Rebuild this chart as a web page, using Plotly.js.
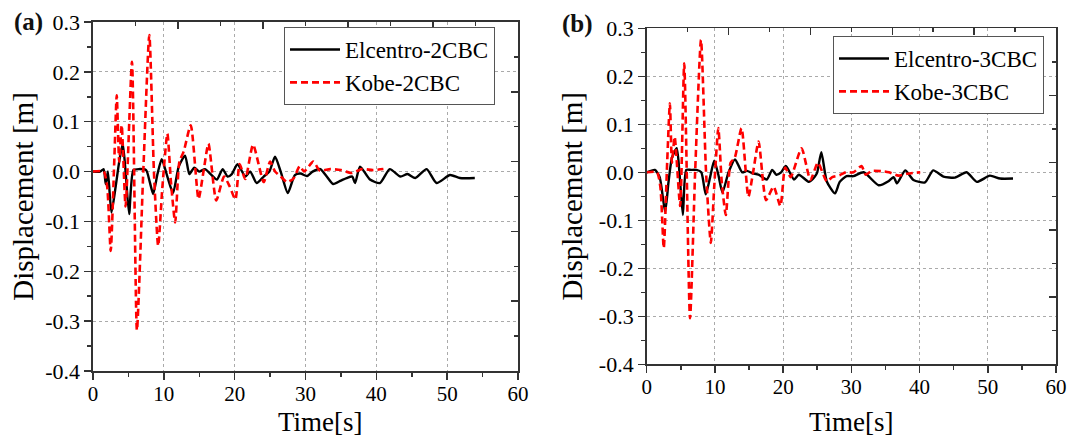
<!DOCTYPE html>
<html>
<head>
<meta charset="utf-8">
<script src="https://cdn.plot.ly/plotly-3.0.1.min.js"></script>
<style>html,body{margin:0;padding:0;background:#fff;}#chart{width:1080px;height:437px;}</style>
</head>
<body>
<div id="chart"></div>
<script>
// ---------- data ----------
// Panel (a)
const tElcentro2 = [0, 1.0, 1.5, 1.8, 2.1, 2.6, 3.2, 3.7, 4.2, 4.6, 5.1, 5.7, 6.5, 7.5, 8.0, 8.5, 9.1, 9.7, 10.5, 11.3, 12.1, 13.0, 13.6, 14.3, 15.0, 15.8, 16.6, 17.5, 18.3, 19.0, 19.6, 20.4, 21.5, 22.2, 23.1, 24.1, 24.9, 25.7, 26.5, 27.5, 28.5, 29.3, 30.2, 31.0, 32.1, 33.0, 33.9, 35.0, 35.8, 36.6, 37.0, 37.7, 39.1, 40.5, 41.9, 43.4, 44.4, 45.5, 47.1, 48.5, 50.4, 51.8, 53.9];
const dElcentro2 = [0, 0, 0.005, -0.025, 0.0, -0.082, -0.03, 0.02, 0.056, 0.0, -0.085, 0.003, 0.005, 0.003, -0.02, -0.045, -0.005, 0.025, -0.01, -0.043, 0.01, 0.032, -0.005, 0.008, 0.0, 0.005, -0.005, -0.016, 0.005, -0.01, -0.005, 0.015, -0.01, 0.0, -0.023, -0.01, 0.0, 0.03, 0.0, -0.043, -0.007, -0.004, -0.009, 0.0, 0.005, -0.01, -0.025, -0.018, -0.013, -0.01, -0.023, 0.01, -0.016, -0.023, 0.005, -0.01, -0.005, -0.013, 0.005, -0.023, -0.007, -0.013, -0.013];
const tKobe2 = [0, 1.5, 2.0, 2.5, 3.0, 3.35, 3.7, 4.05, 4.6, 5.5, 6.2, 7.1, 7.95, 8.6, 9.2, 9.8, 10.5, 11.0, 11.6, 12.2, 12.8, 13.8, 14.9, 15.6, 16.3, 17.4, 18.5, 19.3, 20.1, 20.7, 21.5, 22.6, 24.1, 25.0, 25.7, 26.5, 27.4, 28.3, 29.2, 29.8, 31.1, 32.0, 33.5, 35.0, 36.5, 38.0, 39.5, 41.0];
const dKobe2 = [0, 0, -0.03, -0.159, 0.02, 0.153, 0.02, 0.093, -0.07, 0.22, -0.318, 0.0, 0.274, 0.0, -0.149, -0.03, 0.076, -0.02, -0.102, 0.02, 0.04, 0.093, -0.055, 0.0, 0.056, -0.058, -0.01, -0.03, -0.056, 0.015, -0.015, 0.054, -0.021, 0.02, 0.0, -0.01, -0.021, -0.014, 0.011, 0.0, 0.02, 0.002, 0.005, 0.003, -0.003, 0.005, 0.003, 0.005];

// Panel (b)
const tElcentro3 = [0, 1.2, 1.9, 2.7, 3.2, 3.7, 4.4, 4.8, 5.3, 5.8, 6.5, 7.3, 8.0, 8.65, 9.3, 9.9, 10.5, 11.1, 12.0, 12.95, 14.0, 14.7, 15.5, 16.4, 17.6, 18.4, 19.0, 19.7, 20.4, 21.6, 22.3, 23.8, 24.6, 25.0, 25.6, 26.4, 27.6, 28.3, 29.3, 30.3, 31.8, 34.0, 35.5, 36.2, 36.7, 37.9, 39.1, 40.8, 42.0, 43.5, 45.2, 46.9, 48.4, 50.3, 51.8, 53.7];
const dElcentro3 = [0, 0.005, -0.01, -0.082, -0.02, 0.03, 0.05, 0.0, -0.089, 0.005, 0.005, 0.005, 0.0, -0.046, -0.01, 0.024, -0.005, -0.042, 0.0, 0.027, 0.0, 0.003, -0.002, -0.005, -0.015, 0.005, -0.005, 0.0, 0.013, -0.015, -0.005, -0.02, -0.01, 0.0, 0.042, -0.019, -0.044, -0.02, -0.008, -0.008, 0.0, -0.027, -0.018, -0.01, -0.023, 0.004, -0.016, -0.021, 0.004, -0.009, -0.011, 0.0, -0.02, -0.007, -0.013, -0.013];
const tKobe3 = [0, 1.5, 2.0, 2.5, 3.0, 3.4, 3.7, 4.1, 4.9, 5.5, 6.35, 7.1, 7.96, 8.7, 9.4, 9.9, 10.5, 11.0, 11.6, 12.3, 12.9, 13.9, 14.9, 15.6, 16.4, 17.5, 18.6, 19.6, 20.3, 21.1, 22.7, 24.0, 25.1, 26.4, 27.2, 28.3, 29.2, 30.3, 31.5, 32.1, 33.0, 34.7, 35.5, 36.9, 38.2, 40.1];
const dKobe3 = [0, 0, -0.03, -0.158, 0.02, 0.144, 0.02, 0.074, -0.07, 0.227, -0.304, 0.0, 0.276, 0.0, -0.147, -0.03, 0.092, -0.02, -0.089, 0.02, 0.03, 0.092, -0.051, 0.0, 0.064, -0.058, -0.03, -0.07, 0.01, -0.01, 0.05, -0.016, 0.02, -0.019, -0.01, -0.006, 0.0, 0.0, 0.013, -0.005, 0.003, 0.002, 0.0, -0.007, -0.003, 0.0];

// Tick labels
const xTickVals = [0, 10, 20, 30, 40, 50, 60];
const xTickText = ['0', '10', '20', '30', '40', '50', '60'];
const yTickVals = [-0.4, -0.3, -0.2, -0.1, 0.0, 0.1, 0.2, 0.3];
const yTickText = ['-0.4', '-0.3', '-0.2', '-0.1', '0.0', '0.1', '0.2', '0.3'];

// Names / texts
const seriesNamesA = ['Elcentro-2CBC', 'Kobe-2CBC'];
const seriesNamesB = ['Elcentro-3CBC', 'Kobe-3CBC'];
const panelLabels = ['(a)', '(b)'];
const xTitle = 'Time[s]';
const yTitle = 'Displacement [m]';

// ---------- styling ----------
const W = 1080, H = 437;
const FONT = 'Liberation Serif, Times New Roman, serif';
const AXC = '#333333';
const px = v => v / W;
const py = v => 1 - v / H;

function bottomX(domain, anchor) {
  return {
    domain: domain, anchor: anchor, range: [0, 60],
    tickmode: 'array', tickvals: xTickVals, ticktext: xTickText,
    ticks: 'outside', ticklen: 7, tickwidth: 1.5, tickcolor: AXC, ticklabelstandoff: -4,
    minor: {tickmode: 'linear', tick0: 0, dtick: 5, ticks: 'outside', ticklen: 4, tickwidth: 1.5, tickcolor: AXC, showgrid: false},
    showline: true, linecolor: AXC, linewidth: 1.6,
    showgrid: true, gridcolor: '#aaaaaa', griddash: 'dot', gridwidth: 1,
    zeroline: false,
    tickfont: {family: FONT, size: 21, color: '#000'}
  };
}
function leftY(domain, anchor, standoff) {
  return {
    domain: domain, anchor: anchor, range: [-0.4, 0.3],
    tickmode: 'array', tickvals: yTickVals, ticktext: yTickText,
    ticks: 'outside', ticklen: 7, tickwidth: 1.5, tickcolor: AXC,
    minor: {tickmode: 'linear', tick0: 0, dtick: 0.05, ticks: 'outside', ticklen: 4, tickwidth: 1.5, tickcolor: AXC, showgrid: false},
    showline: true, linecolor: AXC, linewidth: 1.6,
    showgrid: true, gridcolor: '#aaaaaa', griddash: 'dot', gridwidth: 1,
    zeroline: false,
    tickfont: {family: FONT, size: 22, color: '#000'},
    title: {text: yTitle, font: {family: FONT, size: 29, color: '#000'}, standoff: standoff}
  };
}
function topX(overlay, anchor, domain) {
  return {
    overlaying: overlay, anchor: anchor, side: 'top', range: [0, 10], domain: domain,
    tickmode: 'linear', tick0: 0, dtick: 2,
    ticks: 'inside', ticklen: 7, tickwidth: 1.5, tickcolor: AXC,
    minor: {tickmode: 'linear', tick0: 0, dtick: 1, ticks: 'inside', ticklen: 4, tickwidth: 1.5, tickcolor: AXC, showgrid: false},
    showticklabels: false, showline: true, linecolor: AXC, linewidth: 1.6,
    showgrid: false, zeroline: false
  };
}
function rightY(overlay, anchor, domain) {
  return {
    overlaying: overlay, anchor: anchor, side: 'right', range: [0, 10], domain: domain,
    tickmode: 'linear', tick0: 0, dtick: 2,
    ticks: 'inside', ticklen: 7, tickwidth: 1.5, tickcolor: AXC,
    minor: {tickmode: 'linear', tick0: 0, dtick: 1, ticks: 'inside', ticklen: 4, tickwidth: 1.5, tickcolor: AXC, showgrid: false},
    showticklabels: false, showline: true, linecolor: AXC, linewidth: 1.6,
    showgrid: false, zeroline: false
  };
}

const blackLine = {color: '#000000', width: 2.4, shape: 'spline', smoothing: 0.6};
const redLine = {color: '#ff0000', width: 2.6, dash: '7px,4px', shape: 'spline', smoothing: 0.6};

const traces = [
  {x: tElcentro2, y: dElcentro2, name: seriesNamesA[0], type: 'scatter', mode: 'lines', line: blackLine, xaxis: 'x', yaxis: 'y', legend: 'legend'},
  {x: tKobe2, y: dKobe2, name: seriesNamesA[1], type: 'scatter', mode: 'lines', line: redLine, xaxis: 'x', yaxis: 'y', legend: 'legend'},
  {x: tElcentro3, y: dElcentro3, name: seriesNamesB[0], type: 'scatter', mode: 'lines', line: blackLine, xaxis: 'x2', yaxis: 'y2', legend: 'legend2'},
  {x: tKobe3, y: dKobe3, name: seriesNamesB[1], type: 'scatter', mode: 'lines', line: redLine, xaxis: 'x2', yaxis: 'y2', legend: 'legend2'},
  {x: [], y: [], xaxis: 'x3', yaxis: 'y3', showlegend: false, hoverinfo: 'skip', type: 'scatter', mode: 'lines'},
  {x: [], y: [], xaxis: 'x4', yaxis: 'y4', showlegend: false, hoverinfo: 'skip', type: 'scatter', mode: 'lines'}
];

const domAx = [px(93), px(518)], domAy = [py(371), py(22)];
const domBx = [px(646.7), px(1056)], domBy = [py(364.3), py(28.3)];

function legendAt(x, y) {
  return {
    x: px(x), y: py(y), xanchor: 'left', yanchor: 'top', xref: 'paper', yref: 'paper',
    bgcolor: '#ffffff', bordercolor: '#555555', borderwidth: 1,
    font: {family: FONT, size: 23, color: '#000'},
    itemwidth: 50, tracegroupgap: 0, traceorder: 'normal'
  };
}

function xTitleAnn(xPix, yTopPix) {
  return {text: xTitle, xref: 'paper', yref: 'paper', x: px(xPix), y: py(yTopPix),
    xanchor: 'center', yanchor: 'top', showarrow: false, borderpad: 0,
    font: {family: FONT, size: 27, color: '#000'}};
}

const layout = {
  width: W, height: H,
  margin: {l: 0, r: 0, t: 0, b: 0, pad: 0},
  paper_bgcolor: '#ffffff', plot_bgcolor: '#ffffff',
  showlegend: true,
  font: {family: FONT},
  xaxis: bottomX(domAx, 'y'),
  yaxis: leftY(domAy, 'x', 3),
  xaxis2: bottomX(domBx, 'y2'),
  yaxis2: leftY(domBy, 'x2', 8),
  xaxis3: topX('x', 'y3', domAx),
  yaxis3: rightY('y', 'x3', domAy),
  xaxis4: topX('x2', 'y4', domBx),
  yaxis4: rightY('y2', 'x4', domBy),
  legend: legendAt(284, 27),
  legend2: legendAt(833, 36),
  annotations: [
    {text: '<b>' + panelLabels[0] + '</b>', xref: 'paper', yref: 'paper', x: px(12), y: py(22), xanchor: 'left', yanchor: 'middle', showarrow: false, font: {family: FONT, size: 25, color: '#111'}},
    {text: '<b>' + panelLabels[1] + '</b>', xref: 'paper', yref: 'paper', x: px(560), y: py(24), xanchor: 'left', yanchor: 'middle', showarrow: false, font: {family: FONT, size: 25, color: '#111'}},
    xTitleAnn(320, 406),
    xTitleAnn(851, 406)
  ]
};

Plotly.newPlot('chart', traces, layout, {displayModeBar: false, staticPlot: true});
</script>
</body>
</html>
